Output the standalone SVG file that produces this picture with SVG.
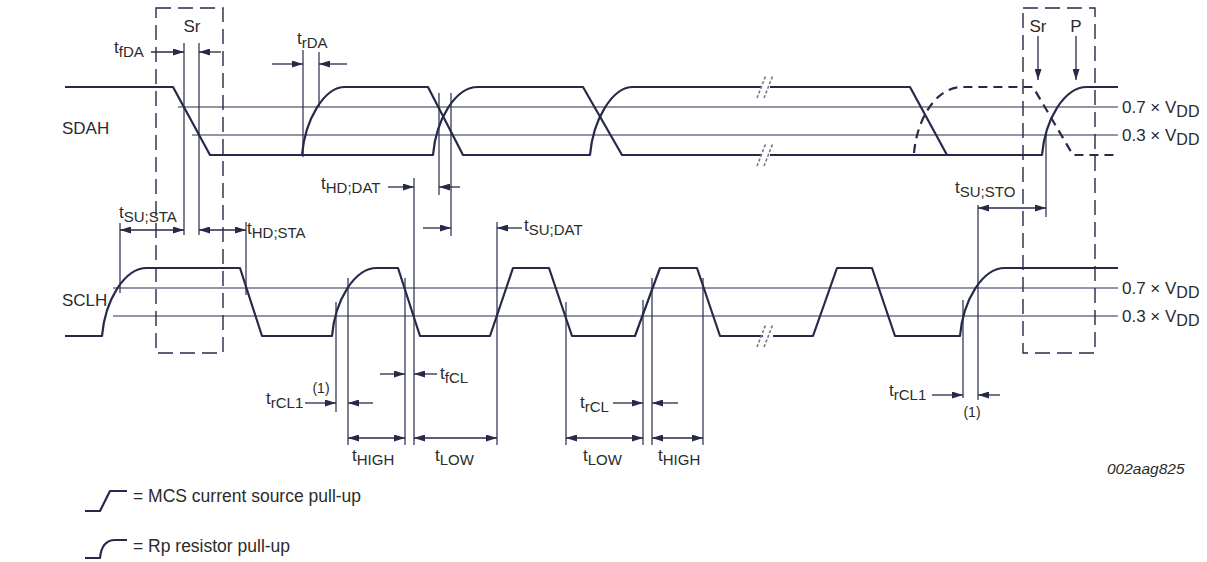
<svg xmlns="http://www.w3.org/2000/svg" width="1207" height="562" viewBox="0 0 1207 562">
<defs>
<style>
.sig{fill:none;stroke:#262a48;stroke-width:2.2;stroke-linejoin:round}
.sigd{fill:none;stroke:#262a48;stroke-width:2.2;stroke-dasharray:9,6}
.thr{stroke:#2a2e50;stroke-width:1.2}
.v{stroke:#262a48;stroke-width:1.2}
.box{fill:none;stroke:#262a48;stroke-width:1.4;stroke-dasharray:15,7}
.ar{stroke:#262a48;stroke-width:1.3;fill:none}
.brk{stroke:#7a7a7a;stroke-width:1.6;stroke-dasharray:3,2}
text{font-family:"Liberation Sans",Arial,sans-serif;fill:#2b2b2b}
.lb{font-size:17px}
.sub{font-size:15px}
.th{font-size:17px}
.ths{font-size:16px}
.lg{font-size:17.5px}
.sm{font-size:14px}
</style>
<marker id="ah" viewBox="0 0 11 7" refX="11" refY="3.5" markerWidth="11" markerHeight="7" markerUnits="userSpaceOnUse" orient="auto-start-reverse">
<path d="M0,0 L11,3.5 L0,7 z" fill="#262a48"/>
</marker>
</defs>
<rect width="1207" height="562" fill="#ffffff"/>

<g id="sdah-label"><text class="lb" x="62" y="134">SDAH</text></g>
<g id="sclh-label"><text class="lb" x="62" y="306">SCLH</text></g>

<g id="box-sr-start">
<rect class="box" x="156" y="8" width="67" height="345"/>
<text class="lb" x="192" y="32" text-anchor="middle">Sr</text>
</g>
<g id="box-sr-stop">
<rect class="box" x="1023" y="8" width="72" height="345"/>
<text class="lb" x="1038" y="32" text-anchor="middle">Sr</text>
<text class="lb" x="1076" y="32" text-anchor="middle">P</text>
</g>

<g id="thresholds">
<line class="thr" x1="178" y1="107" x2="1118" y2="107"/>
<line class="thr" x1="192" y1="135" x2="1118" y2="135"/>
<line class="thr" x1="113" y1="288" x2="1118" y2="288"/>
<line class="thr" x1="113" y1="316" x2="1118" y2="316"/>
<text class="th" x="1122" y="113">0.7 × V<tspan class="ths" dy="4">DD</tspan></text>
<text class="th" x="1122" y="141">0.3 × V<tspan class="ths" dy="4">DD</tspan></text>
<text class="th" x="1122" y="294">0.7 × V<tspan class="ths" dy="4">DD</tspan></text>
<text class="th" x="1122" y="322">0.3 × V<tspan class="ths" dy="4">DD</tspan></text>
</g>

<g id="sdah-signal">
<path class="sig" d="M65,87 H173 L210,155 H433 c3,-35 22,-68 45,-68 H583 L622,155 H762"/>
<path class="sig" d="M302,155 c3,-35 22,-68 43,-68 H428 L463,155 H590 c3,-35 22,-68 43,-68 H762"/>
<path class="sig" d="M770,87 H910 L947,155 H1042 c3,-35 22,-68 45,-68 H1118"/>
<path class="sig" d="M770,155 H947"/>
<path class="sigd" d="M914,153 c3,-34 22,-66 48,-66 H1033 L1073,155 H1118"/>
</g>

<g id="sclh-signal">
<path class="sig" d="M65,336 H102 c3,-35 22,-68 45,-68 H240 L262,336 H332 c3,-35 22,-68 45,-68 H398 L420,336 H490 L513,268 H549 L572,336 H635 L660,268 H697 L720,336 H763"/>
<path class="sig" d="M773,336 H813 L837,268 H872 L895,336 H960 c3,-35 22,-68 45,-68 H1118"/>
</g>

<g id="break-marks">
<line class="brk" x1="757" y1="98" x2="766" y2="75"/>
<line class="brk" x1="764" y1="98" x2="773" y2="75"/>
<line class="brk" x1="757" y1="166" x2="766" y2="143"/>
<line class="brk" x1="764" y1="166" x2="773" y2="143"/>
<line class="brk" x1="757" y1="347" x2="766" y2="324"/>
<line class="brk" x1="764" y1="347" x2="773" y2="324"/>
</g>

<g id="connectors">
<line class="v" x1="184" y1="43" x2="184" y2="235"/>
<line class="v" x1="199" y1="43" x2="199" y2="235"/>
<line class="v" x1="303" y1="50" x2="303" y2="157"/>
<line class="v" x1="319" y1="52" x2="319" y2="107"/>
<line class="v" x1="439" y1="93" x2="439" y2="195"/>
<line class="v" x1="451" y1="93" x2="451" y2="236"/>
<line class="v" x1="414" y1="178" x2="414" y2="445"/>
<line class="v" x1="497" y1="222" x2="497" y2="445"/>
<line class="v" x1="120" y1="223" x2="120" y2="293"/>
<line class="v" x1="246" y1="222" x2="246" y2="295"/>
<line class="v" x1="336" y1="302" x2="336" y2="412"/>
<line class="v" x1="348" y1="278" x2="348" y2="445"/>
<line class="v" x1="405" y1="278" x2="405" y2="445"/>
<line class="v" x1="566" y1="302" x2="566" y2="445"/>
<line class="v" x1="643" y1="300" x2="643" y2="445"/>
<line class="v" x1="652" y1="278" x2="652" y2="445"/>
<line class="v" x1="703" y1="278" x2="703" y2="445"/>
<line class="v" x1="963" y1="300" x2="963" y2="398"/>
<line class="v" x1="978" y1="205" x2="978" y2="400"/>
<line class="v" x1="1046" y1="133" x2="1046" y2="217"/>

<line class="ar" x1="151" y1="52" x2="184" y2="52" marker-end="url(#ah)"/>
<line class="ar" x1="221" y1="52" x2="199" y2="52" marker-end="url(#ah)"/>
<line class="ar" x1="272" y1="64" x2="303" y2="64" marker-end="url(#ah)"/>
<line class="ar" x1="347" y1="64" x2="319" y2="64" marker-end="url(#ah)"/>
<line class="ar" x1="388" y1="187" x2="414" y2="187" marker-end="url(#ah)"/>
<line class="ar" x1="460" y1="187" x2="439" y2="187" marker-end="url(#ah)"/>
<line class="ar" x1="423" y1="228" x2="451" y2="228" marker-end="url(#ah)"/>
<line class="ar" x1="522" y1="228" x2="497" y2="228" marker-end="url(#ah)"/>
<line class="ar" x1="120" y1="230" x2="184" y2="230" marker-start="url(#ah)" marker-end="url(#ah)"/>
<line class="ar" x1="199" y1="230" x2="246" y2="230" marker-start="url(#ah)" marker-end="url(#ah)"/>
<line class="ar" x1="978" y1="208" x2="1046" y2="208" marker-start="url(#ah)" marker-end="url(#ah)"/>
<line class="ar" x1="1038" y1="36" x2="1038" y2="80" marker-end="url(#ah)"/>
<line class="ar" x1="1076" y1="36" x2="1076" y2="80" marker-end="url(#ah)"/>
<line class="ar" x1="305" y1="403" x2="336" y2="403" marker-end="url(#ah)"/>
<line class="ar" x1="373" y1="403" x2="348" y2="403" marker-end="url(#ah)"/>
<line class="ar" x1="380" y1="374" x2="405" y2="374" marker-end="url(#ah)"/>
<line class="ar" x1="437" y1="374" x2="414" y2="374" marker-end="url(#ah)"/>
<line class="ar" x1="613" y1="403" x2="643" y2="403" marker-end="url(#ah)"/>
<line class="ar" x1="678" y1="403" x2="652" y2="403" marker-end="url(#ah)"/>
<line class="ar" x1="348" y1="438" x2="405" y2="438" marker-start="url(#ah)" marker-end="url(#ah)"/>
<line class="ar" x1="414" y1="438" x2="497" y2="438" marker-start="url(#ah)" marker-end="url(#ah)"/>
<line class="ar" x1="566" y1="438" x2="643" y2="438" marker-start="url(#ah)" marker-end="url(#ah)"/>
<line class="ar" x1="652" y1="438" x2="703" y2="438" marker-start="url(#ah)" marker-end="url(#ah)"/>
<line class="ar" x1="932" y1="395" x2="963" y2="395" marker-end="url(#ah)"/>
<line class="ar" x1="1000" y1="395" x2="978" y2="395" marker-end="url(#ah)"/>
</g>

<g id="timing-labels">
<text class="lb" x="114" y="53">t<tspan class="sub" dy="4">fDA</tspan></text>
<text class="lb" x="297" y="44">t<tspan class="sub" dy="4">rDA</tspan></text>
<text class="lb" x="321" y="189">t<tspan class="sub" dy="4">HD;DAT</tspan></text>
<text class="lb" x="524" y="231">t<tspan class="sub" dy="4">SU;DAT</tspan></text>
<text class="lb" x="119" y="218">t<tspan class="sub" dy="4">SU;STA</tspan></text>
<text class="lb" x="247" y="234">t<tspan class="sub" dy="4">HD;STA</tspan></text>
<text class="lb" x="955" y="193">t<tspan class="sub" dy="4">SU;STO</tspan></text>
<text class="lb" x="266" y="404">t<tspan class="sub" dy="4">rCL1</tspan></text>
<text class="sm" x="321" y="393" text-anchor="middle">(1)</text>
<text class="lb" x="440" y="379">t<tspan class="sub" dy="4">fCL</tspan></text>
<text class="lb" x="580" y="408">t<tspan class="sub" dy="4">rCL</tspan></text>
<text class="lb" x="352" y="461">t<tspan class="sub" dy="4">HIGH</tspan></text>
<text class="lb" x="435" y="461">t<tspan class="sub" dy="4">LOW</tspan></text>
<text class="lb" x="583" y="461">t<tspan class="sub" dy="4">LOW</tspan></text>
<text class="lb" x="658" y="461">t<tspan class="sub" dy="4">HIGH</tspan></text>
<text class="lb" x="889" y="396">t<tspan class="sub" dy="4">rCL1</tspan></text>
<text class="sm" x="972" y="417" text-anchor="middle">(1)</text>
</g>

<g id="legend">
<path class="sig" d="M85,511 H100 L110,491 H127"/>
<text class="lg" x="133" y="502">= MCS current source pull-up</text>
<path class="sig" d="M85,558 H100 c1,-10 5,-18 15,-18 H127"/>
<text class="lg" x="133" y="552">= Rp resistor pull-up</text>
</g>

<g id="figure-id">
<text x="1107" y="474" font-size="15.5" font-style="italic" fill="#444">002aag825</text>
</g>
</svg>
